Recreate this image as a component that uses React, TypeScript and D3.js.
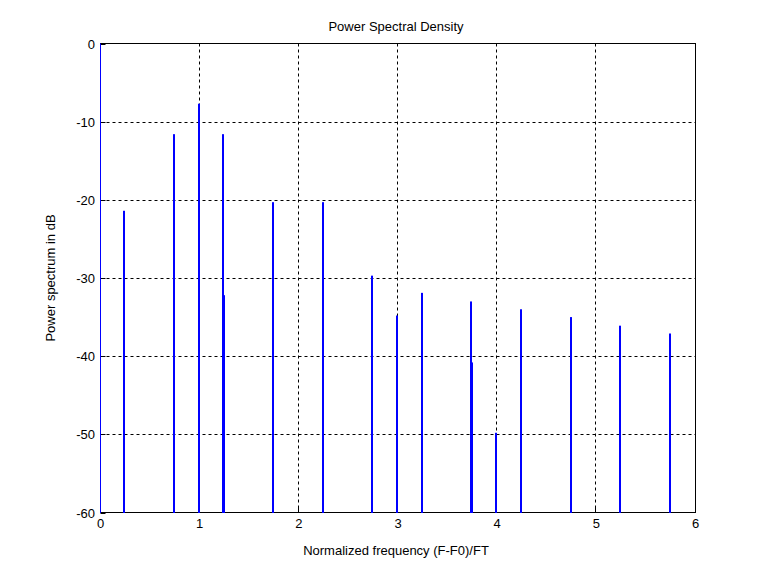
import React from "react";
import * as d3 from "d3";

const freqs = [0, 0.25, 0.75, 1.0, 1.25, 1.258, 1.75, 2.25, 2.75, 3.0, 3.25, 3.742, 3.752, 4.0, 4.25, 4.75, 5.25, 5.75];
const powerDb = [0, -21.4, -11.6, -7.7, -11.6, -32.2, -20.3, -20.3, -29.7, -34.8, -31.9, -33.0, -40.8, -49.8, -34.0, -35.0, -36.1, -37.1];
const xTicks = [0, 1, 2, 3, 4, 5, 6];
const yTicks = [0, -10, -20, -30, -40, -50, -60];

const title = "Power Spectral Density";
const xLabel = "Normalized frequency (F-F0)/FT";
const yLabel = "Power spectrum in dB";

export default function App() {
  const W = 768, H = 576;
  const left = 100.5, right = 695.5, top = 43.5, bottom = 512.5;
  const x = d3.scaleLinear().domain([0, 6]).range([left, right]);
  const y = d3.scaleLinear().domain([-60, 0]).range([bottom, top]);
  const font = "'Liberation Sans', Arial, sans-serif";
  const fs = 13;
  const data = freqs.map((f, i) => ({ f, v: powerDb[i] }));

  return (
    <svg width={W} height={H} style={{ position: "absolute", left: 0, top: 0, background: "#fff" }} fontFamily={font}>
      <rect x={0} y={0} width={W} height={H} fill="#fff" />
      {/* grid */}
      {xTicks.slice(1, -1).map((t) => (
        <line key={"gx" + t} x1={Math.round(x(t)) - 0.5} x2={Math.round(x(t)) - 0.5} y1={top} y2={bottom} stroke="#000" strokeWidth={1} strokeDasharray="3,3" />
      ))}
      {yTicks.slice(1, -1).map((t) => (
        <line key={"gy" + t} x1={left} x2={right} y1={Math.round(y(t)) + 0.5} y2={Math.round(y(t)) + 0.5} stroke="#000" strokeWidth={1} strokeDasharray="3,3" />
      ))}
      {/* box */}
      <rect x={left} y={top} width={right - left} height={bottom - top} fill="none" stroke="#000" strokeWidth={1} />
      {/* ticks */}
      {xTicks.map((t) => (
        <g key={"xt" + t}>
          <line x1={Math.round(x(t)) - 0.5} x2={Math.round(x(t)) - 0.5} y1={bottom} y2={bottom - 5} stroke="#000" />
          <text x={x(t)} y={528} fontSize={fs} textAnchor="middle" fill="#000">{t}</text>
        </g>
      ))}
      {yTicks.map((t) => (
        <g key={"yt" + t}>
          <line x1={left} x2={left + 5} y1={Math.round(y(t)) + 0.5} y2={Math.round(y(t)) + 0.5} stroke="#000" />
          <text x={95} y={y(t) + 5} fontSize={fs} textAnchor="end" fill="#000">{t}</text>
        </g>
      ))}
      {/* stems */}
      <g>
        {data.map((d, i) => {
          const cx = Math.round(x(d.f) - 1);
          const x0 = Math.max(cx - 1, 100);
          const y0 = Math.max(y(d.v), 43);
          return (
            <rect key={"s" + i} x={x0} width={cx + 1 - x0} y={y0} height={513 - y0} fill="#0000ff" />
          );
        })}
      </g>
      {/* labels */}
      <text x={396} y={31} fontSize={fs} textAnchor="middle" fill="#000">{title}</text>
      <text x={396} y={555} fontSize={fs} textAnchor="middle" fill="#000">{xLabel}</text>
      <text transform={`translate(55,${(top + bottom) / 2}) rotate(-90)`} fontSize={fs} textAnchor="middle" fill="#000">{yLabel}</text>
    </svg>
  );
}
